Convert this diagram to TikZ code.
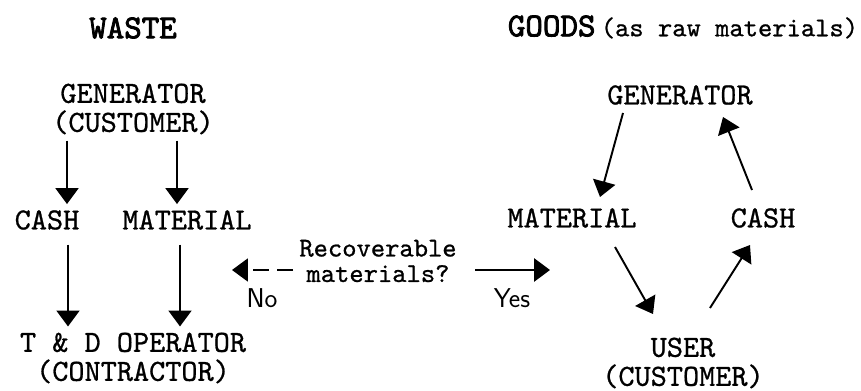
\documentclass[tikz,border=0pt]{standalone}
\usepackage{fontspec}
\newfontfamily\ttheavy[FakeBold=2.5]{lmmono10-regular.otf}
\newfontfamily\ttplain[FakeBold=0.8]{lmmono10-regular.otf}
\usetikzlibrary{arrows.meta}
\tikzset{
  box/.style={font=\fontsize{17.5}{16.5}\selectfont\ttplain, align=center},
  head/.style={font=\fontsize{19}{20}\selectfont\ttheavy},
  ask/.style={font=\fontsize{15.5}{14.5}\selectfont\ttplain, align=center},
  yn/.style={font=\fontsize{15.5}{16}\selectfont\sffamily},
  flow/.style={-{Triangle[length=9pt,width=13pt]}, line width=1.1pt},
}
\begin{document}
\begin{tikzpicture}[x=0.02cm,y=0.02cm]
\useasboundingbox (0,0) rectangle (861,-391);
% waste side
\node[head] (waste) at (133,-28) {WASTE};
\node[box] (genL) at (133,-109) {GENERATOR\\(CUSTOMER)};
\node[box] (cashL) at (47,-220) {CASH};
\node[box] (matL) at (187,-220) {MATERIAL};
\node[box] (tdop) at (133,-358) {T \& D OPERATOR\\(CONTRACTOR)};
\draw[flow] (genL.south -| 67,0) -- (cashL.north -| 67,0);
\draw[flow] (genL.south -| 177,0) -- (matL.north -| 177,0);
\draw[flow, shorten <=5pt] (cashL.south -| 68,0) -- (tdop.north -| 68,0);
\draw[flow, shorten <=5pt] (matL.south -| 180,0) -- (tdop.north -| 180,0);
% decision
\node[ask] (query) at (378,-261) {Recoverable\\materials?};
\coordinate (noend) at (232,-270);
\coordinate (yesend) at (550,-270);
\draw[flow, dash pattern=on 9pt off 5pt] (query.west |- noend) -- (noend);
\draw[flow, line width=1.6pt, shorten <=7pt] (query.east |- yesend) -- (yesend);
\node[yn] (no) at (262,-298) {No};
\node[yn] (yes) at (512,-298) {Yes};
% goods side
\node[head] (goods) at (683,-27) {GOODS\hspace{3pt}{\ttplain\fontsize{15.5}{16}\selectfont(as raw materials)}};
\node[box] (genR) at (680,-95) {GENERATOR};
\node[box] (matR) at (572,-218) {MATERIAL};
\node[box] (cashR) at (763,-218) {CASH};
\node[box] (user) at (683,-363) {USER\\(CUSTOMER)};
\draw[flow] ([shift={(-57,-18)}]genR.center) -- ([shift={(28,21)}]matR.center);
\draw[flow] ([shift={(-11,28)}]cashR.center) -- ([shift={(43,-22)}]genR.center);
\draw[flow] ([shift={(43,-29)}]matR.center) -- ([shift={(-30,49)}]user.center);
\draw[flow] ([shift={(27,55)}]user.center) -- ([shift={(-13,-27)}]cashR.center);
\end{tikzpicture}
\end{document}
